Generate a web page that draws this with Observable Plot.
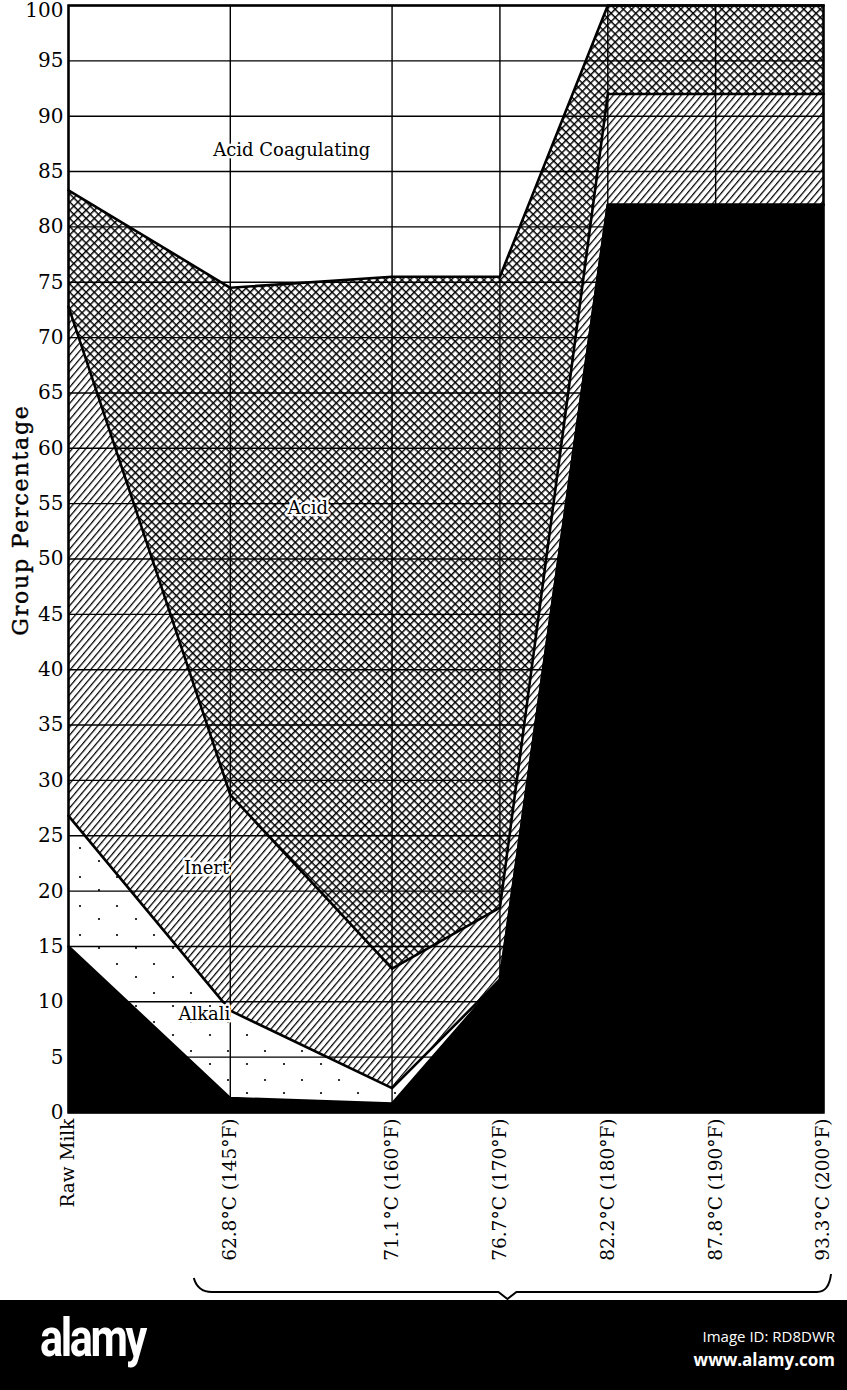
<!DOCTYPE html>
<html>
<head>
<meta charset="utf-8">
<script src="https://cdn.jsdelivr.net/npm/d3@7"></script>
<script src="https://cdn.jsdelivr.net/npm/@observablehq/plot@0.6"></script>
<style>
  html, body { margin: 0; padding: 0; background: #fff; }
  body { width: 847px; }
  #chart svg { display: block; }
  #footer { position: relative; width: 847px; height: 90px; background: #000; color: #fff; font-family: "Open Sans", sans-serif; }
  #footer .logo { position: absolute; left: 40px; top: 6px; font-family: Roboto, sans-serif; font-weight: 700; font-size: 54px; letter-spacing: -3px; transform: scaleX(0.8); transform-origin: left; }
  #footer .id { position: absolute; right: 12px; top: 26px; font-size: 15px; }
  #footer .url { position: absolute; right: 12px; top: 48px; font-size: 17px; font-weight: 700; }
</style>
</head>
<body>
<div id="chart"></div>
<div id="footer"><div class="logo">alamy</div><div class="id">Image ID: RD8DWR</div><div class="url">www.alamy.com</div></div>
<script>
// ---- data ----
const xLabels = ["Raw Milk", "62.8°C (145°F)", "71.1°C (160°F)", "76.7°C (170°F)", "82.2°C (180°F)", "87.8°C (190°F)", "93.3°C (200°F)"];
const tempF = [130, 145, 160, 170, 180, 190, 200]; // Raw milk placed at 130°F
const seriesNames = ["Peptonizing", "Alkali", "Inert", "Acid", "Acid Coagulating"];
const peptonizing     = [15,   1.3,  0.8, 12,   82, 82, 82];
const alkali          = [11.8, 7.9,  1.4,  0,    0,  0,  0];
const inert           = [46,   19.5, 10.8, 6.5, 10, 10, 10];
const acid            = [10.5, 45.8, 62.5, 57,   8,  8,  8];
const acidCoagulating = [16.7, 25.5, 24.5, 24.5, 0,  0,  0];
const yTicks = [0, 5, 10, 15, 20, 25, 30, 35, 40, 45, 50, 55, 60, 65, 70, 75, 80, 85, 90, 95, 100];
const regionLabels = [
  {text: "Acid Coagulating", t: 150.7, v: 86.9},
  {text: "Acid", t: 152.2, v: 54.6},
  {text: "Inert", t: 142.8, v: 22.1},
  {text: "Alkali", t: 142.6, v: 8.9},
  {text: "Peptonizing", t: 189.6, v: 33.4}
];

const seriesValues = [peptonizing, alkali, inert, acid, acidCoagulating];
const fills = ["#000", "url(#pAlkali)", "url(#pInert)", "url(#pAcid)", "#fff"];
const rows = seriesNames.flatMap((s, i) => tempF.map((t, j) => ({series: s, t, value: seriesValues[i][j]})));

const serif = "'DejaVu Serif', 'Liberation Serif', serif";
const topTick = yTicks[yTicks.length - 1];

const chart = Plot.plot({
  width: 847,
  height: 1300,
  marginLeft: 68,
  marginRight: 24,
  marginTop: 5,
  marginBottom: 188,
  style: {fontFamily: serif, color: "#000", background: "#fff", overflow: "visible"},
  x: {type: "linear", domain: [130, 200]},
  y: {domain: [0, 100]},
  color: {type: "ordinal", domain: seriesNames, range: fills},
  marks: [
    Plot.areaY(rows, Plot.stackY({x: "t", y: "value", z: "series", order: seriesNames, fill: "series"})),
    Plot.ruleY(yTicks, {stroke: "#000", strokeWidth: 1.4}),
    Plot.ruleX(tempF, {stroke: "#000", strokeWidth: 1.4}),
    Plot.areaY(rows.filter(d => d.series === "Peptonizing"), {x: "t", y: "value", fill: "#000"}),
    Plot.lineY(rows.filter(d => d.series !== "Acid Coagulating"),
      Plot.stackY2({x: "t", y: "value", z: "series", order: seriesNames, stroke: "#000", strokeWidth: 2.6})),
    Plot.frame({stroke: "#000", strokeWidth: 2.5}),
    Plot.axisY(yTicks.filter(d => d !== topTick), {tickSize: 0, tickPadding: 5, fontSize: 20, label: null, stroke: "#000", strokeWidth: 0.4}),
    Plot.axisY([topTick], {tickSize: 0, tickPadding: 5, fontSize: 20, label: null, dy: 5, stroke: "#000", strokeWidth: 0.4}),
    Plot.axisX(tempF, {tickRotate: -90, tickSize: 0, tickPadding: 10, fontSize: 18.5, label: null, dy: -4,
      stroke: "#000", strokeWidth: 0.3, tickFormat: d => xLabels[tempF.indexOf(d)]}),
    Plot.text(regionLabels.filter(d => d.text !== "Peptonizing"), {x: "t", y: "v", text: "text", fontSize: 18, fill: "#000",
      stroke: "#fff", strokeWidth: 5}),
    Plot.text(regionLabels.filter(d => d.text === "Peptonizing"), {x: "t", y: "v", text: "text", fontSize: 17.5, fill: "#000", fontWeight: "bold"})
  ]
});

// Patterns for the hatched regions
const svg = d3.select(chart);
const defs = svg.insert("defs", ":first-child");
const pAcid = defs.append("pattern").attr("id", "pAcid").attr("patternUnits", "userSpaceOnUse")
  .attr("width", 5.8).attr("height", 5.8).attr("patternTransform", "rotate(45)");
pAcid.append("rect").attr("width", 5.8).attr("height", 5.8).attr("fill", "#fff");
pAcid.append("path").attr("d", "M0,0.6H5.8M0.6,0V5.8").attr("stroke", "#000").attr("stroke-width", 1.7);
const pInert = defs.append("pattern").attr("id", "pInert").attr("patternUnits", "userSpaceOnUse")
  .attr("width", 5.2).attr("height", 10).attr("patternTransform", "rotate(40)");
pInert.append("rect").attr("width", 5.2).attr("height", 10).attr("fill", "#fff");
pInert.append("path").attr("d", "M0.6,0V10").attr("stroke", "#000").attr("stroke-width", 1.3);
const pAlk = defs.append("pattern").attr("id", "pAlkali").attr("patternUnits", "userSpaceOnUse")
  .attr("width", 37).attr("height", 29);
pAlk.append("rect").attr("width", 37).attr("height", 29).attr("fill", "#fff");
pAlk.append("circle").attr("cx", 6).attr("cy", 7).attr("r", 1.1).attr("fill", "#000");
pAlk.append("circle").attr("cx", 25).attr("cy", 20).attr("r", 1.1).attr("fill", "#000");

// white box behind the Peptonizing label
svg.selectAll("text").filter(function() { return this.textContent === "Peptonizing"; }).each(function() {
  const bb = this.getBBox();
  d3.select(this.parentNode).insert("rect", () => this)
    .attr("x", bb.x - 3).attr("y", bb.y - 1).attr("width", bb.width + 6).attr("height", bb.height + 2)
    .attr("fill", "#fff");
});

// y axis title
svg.append("text").attr("transform", "translate(22,520) rotate(-90)")
  .attr("text-anchor", "middle").attr("dominant-baseline", "middle")
  .attr("font-size", 22).attr("letter-spacing", 1.8).attr("fill", "#000")
  .attr("stroke", "#000").attr("stroke-width", 0.4).text("Group Percentage");

// brace under the temperature labels
const xs = chart.scale("x");
const bl = xs.apply(tempF[1]) - 36, br = xs.apply(tempF[tempF.length - 1]) + 8, bm = xs.apply(tempF[3]) + 8;
const by = 1292;
svg.append("path")
  .attr("d", `M${bl},${by - 14} Q${bl + 4},${by} ${bl + 18},${by} L${bm - 9},${by} L${bm},${by + 7} L${bm + 9},${by} L${br - 14},${by} Q${br - 2},${by} ${br},${by - 18}`)
  .attr("fill", "none").attr("stroke", "#000").attr("stroke-width", 2);

document.getElementById("chart").appendChild(chart);
</script>
</body>
</html>
